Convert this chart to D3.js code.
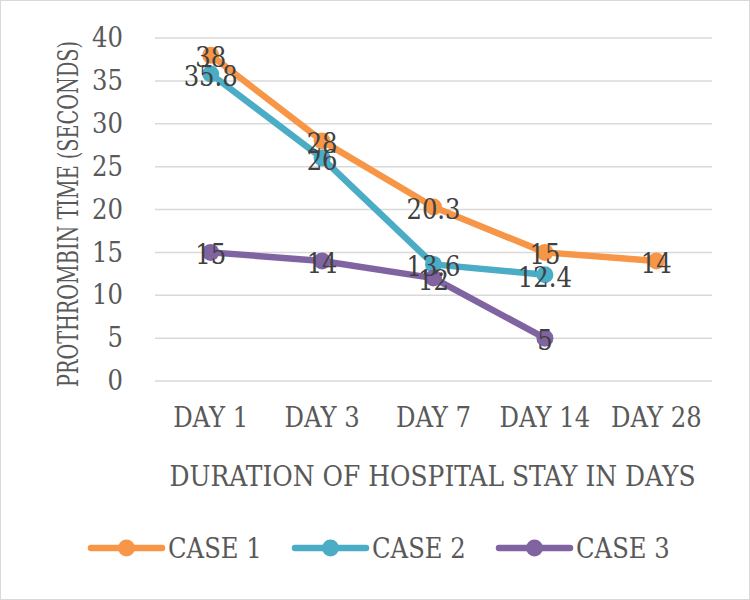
<!DOCTYPE html>
<html><head><meta charset="utf-8">
<script src="https://cdn.jsdelivr.net/npm/d3@7"></script>
<style>
html,body{margin:0;padding:0;background:#fff;}
svg text{font-family:"DejaVu Serif Condensed","DejaVu Serif",serif;fill:#595959;}
</style></head>
<body><svg id="c" width="750" height="600"></svg>
<script>
const categories = ["DAY 1","DAY 3","DAY 7","DAY 14","DAY 28"];
const seriesNames = ["CASE 1","CASE 2","CASE 3"];
const case1 = [38, 28, 20.3, 15, 14];
const case2 = [35.8, 26, 13.6, 12.4, null];
const case3 = [15, 14, 12, 5, null];
const colors = ["#F79646","#4BACC6","#8064A2"];
const yTicks = [0,5,10,15,20,25,30,35,40];
const yTitle = "PROTHROMBIN TIME (SECONDS)";
const xTitle = "DURATION OF HOSPITAL STAY IN DAYS";

(function(){
const FF = "DejaVu Serif Condensed";
const FS = 27;
const svg = d3.select("#c");
svg.append("rect").attr("x",0.5).attr("y",0.5).attr("width",749).attr("height",599)
  .attr("fill","#fff").attr("stroke","#d9d9d9").attr("stroke-width",1);

const pL=155, pR=712, pT=38, pB=381;
const x = d3.scaleBand().domain(categories).range([pL,pR]);
const y = d3.scaleLinear().domain([0,40]).range([pB,pT]);

svg.append("g").selectAll("line").data(yTicks).join("line")
  .attr("x1",pL).attr("x2",pR).attr("y1",d=>y(d)).attr("y2",d=>y(d))
  .attr("stroke","#d9d9d9").attr("stroke-width",1.5);

const ya = svg.append("g").attr("transform",`translate(${pL},0)`)
  .call(d3.axisLeft(y).tickValues(yTicks).tickSize(0).tickPadding(32));
ya.select(".domain").remove();
ya.selectAll("text").attr("font-size",FS).style("fill","#595959").style("font-family",FF);

const xa = svg.append("g").attr("transform",`translate(0,${pB})`)
  .call(d3.axisBottom(x).tickSize(0).tickPadding(27));
xa.select(".domain").remove();
xa.selectAll("text").attr("font-size",FS).style("fill","#595959").style("font-family",FF);

svg.append("text").attr("x",(pL+pR)/2-1).attr("y",486).attr("text-anchor","middle")
  .attr("font-size",FS).attr("textLength",526).attr("lengthAdjust","spacingAndGlyphs").text(xTitle);
svg.append("text").attr("transform",`translate(78,214) rotate(-90)`)
  .attr("text-anchor","middle").attr("font-size",FS)
  .attr("textLength",346).attr("lengthAdjust","spacingAndGlyphs").text(yTitle);

const allSeries = [case1,case2,case3];
const line = d3.line().x(d=>x(d.c)+x.bandwidth()/2).y(d=>y(d.v));

allSeries.forEach((vals,i)=>{
  const pts = vals.map((v,j)=>({c:categories[j],v})).filter(d=>d.v!=null);
  const g = svg.append("g");
  g.append("path").datum(pts).attr("d",line).attr("fill","none")
    .attr("stroke",colors[i]).attr("stroke-width",6.5).attr("stroke-linejoin","round").attr("stroke-linecap","round");
  g.selectAll("circle").data(pts).join("circle")
    .attr("cx",d=>x(d.c)+x.bandwidth()/2).attr("cy",d=>y(d.v)).attr("r",8.5).attr("fill",colors[i]);
});
allSeries.forEach((vals,i)=>{
  const pts = vals.map((v,j)=>({c:categories[j],v})).filter(d=>d.v!=null);
  svg.append("g").selectAll("text").data(pts).join("text")
    .attr("x",d=>x(d.c)+x.bandwidth()/2).attr("y",d=>y(d.v)+12)
    .attr("text-anchor","middle").attr("font-size",FS).style("fill","#404040").text(d=>d.v);
});

const legX = [91, 295, 499];
seriesNames.forEach((n,i)=>{
  const g = svg.append("g").attr("transform",`translate(${legX[i]},548)`);
  g.append("line").attr("x1",0).attr("x2",71).attr("y1",0).attr("y2",0)
    .attr("stroke",colors[i]).attr("stroke-width",6.5).attr("stroke-linecap","round");
  g.append("circle").attr("cx",35.5).attr("cy",0).attr("r",8.5).attr("fill",colors[i]);
  g.append("text").attr("x",77).attr("y",10).attr("font-size",FS).text(n);
});
})();
</script></body></html>
